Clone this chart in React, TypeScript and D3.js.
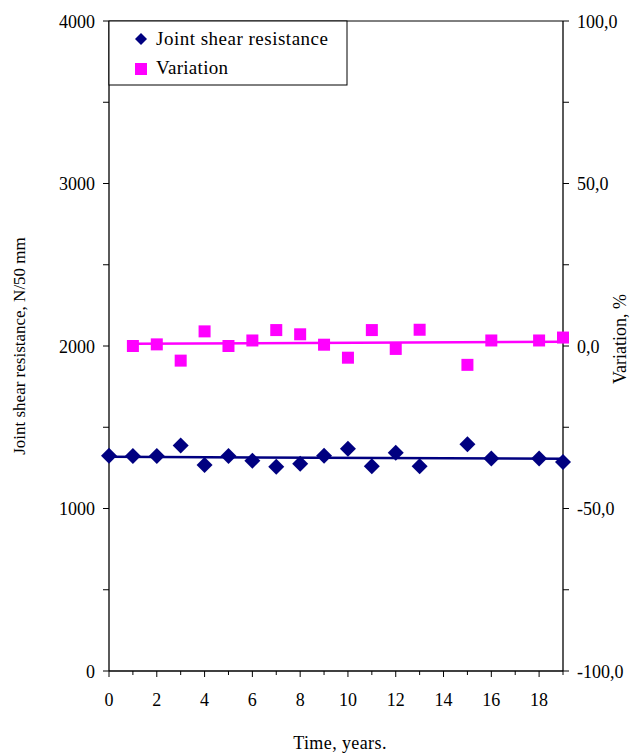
import React from "react";
import * as d3 from "d3";

const years = [0, 1, 2, 3, 4, 5, 6, 7, 8, 9, 10, 11, 12, 13, 15, 16, 18, 19];
const shear = [1325, 1323, 1323, 1387, 1268, 1323, 1294, 1257, 1276, 1325, 1368, 1260, 1343, 1260, 1395, 1307, 1307, 1286];

const varYears = [1, 2, 3, 4, 5, 6, 7, 8, 9, 10, 11, 12, 13, 15, 16, 18, 19];
const variation = [0.0, 0.5, -4.5, 4.5, 0.0, 1.7, 4.9, 3.6, 0.4, -3.6, 4.9, -0.9, 5.0, -5.8, 1.7, 1.7, 2.6];

const leftTicks = [0, 1000, 2000, 3000, 4000];
const rightTicks = [-100, -50, 0, 50, 100];
const xTicks = [0, 2, 4, 6, 8, 10, 12, 14, 16, 18];

const W = 642;
const H = 756;
const m = { left: 109, right: 563, top: 21, bottom: 671 };
const font = "Liberation Serif, Times New Roman, serif";
const NAVY = "#000080";
const MAG = "#FF00FF";

// least squares trend line
function fit(xs: number[], ys: number[]) {
  const mx = d3.mean(xs)!;
  const my = d3.mean(ys)!;
  const sxy = d3.sum(xs, (x, i) => (x - mx) * (ys[i] - my));
  const sxx = d3.sum(xs, (x) => (x - mx) * (x - mx));
  const b = sxy / sxx;
  return (x: number) => my + b * (x - mx);
}

// equal width/height diamond
const diamond = "M0,-8L8,0L0,8L-8,0Z";

export default function App() {
  const x = d3.scaleLinear().domain([0, 19]).range([m.left, m.right]);
  const yL = d3.scaleLinear().domain([0, 4000]).range([m.bottom, m.top]);
  const yR = d3.scaleLinear().domain([-100, 100]).range([m.bottom, m.top]);

  const fS = fit(years, shear);
  const fV = fit(varYears, variation);
  const line = d3.line<[number, number]>().x((d) => d[0]).y((d) => d[1]);

  const minorX = d3.range(0, 20, 1);
  const minorL = d3.range(0, 4001, 500);
  const minorR = d3.range(-100, 101, 25);

  return (
    <svg width={W} height={H} style={{ position: "absolute", left: 0, top: 0, background: "#fff", fontFamily: font }}>
      <rect x={0} y={0} width={W} height={H} fill="#fff" />
      {/* frame */}
      <line x1={m.left} x2={m.right} y1={m.top} y2={m.top} stroke="#000" strokeWidth={1} />
      <line x1={m.left} x2={m.left} y1={m.top} y2={m.bottom} stroke="#000" strokeWidth={1.3} />
      <line x1={m.right} x2={m.right} y1={m.top} y2={m.bottom} stroke="#000" strokeWidth={1.3} />
      <line x1={m.left} x2={m.right} y1={m.bottom} y2={m.bottom} stroke="#000" strokeWidth={1.3} />

      {/* left axis */}
      {minorL.map((v) => (
        <line key={"l" + v} x1={m.left - 6} x2={m.left} y1={yL(v)} y2={yL(v)} stroke="#000" />
      ))}
      {leftTicks.map((v) => (
        <text key={"lt" + v} x={95} y={yL(v) + 6.5} fontSize={18} textAnchor="end">{v}</text>
      ))}

      {/* right axis */}
      {minorR.map((v) => (
        <line key={"r" + v} x1={m.right} x2={m.right + 6} y1={yR(v)} y2={yR(v)} stroke="#000" />
      ))}
      {rightTicks.map((v) => (
        <text key={"rt" + v} x={577} y={yR(v) + 6.5} fontSize={18} textAnchor="start">
          {v.toFixed(1).replace(".", ",")}
        </text>
      ))}

      {/* x axis */}
      {minorX.map((v) => (
        <line key={"x" + v} x1={x(v)} x2={x(v)} y1={m.bottom} y2={m.bottom + (v % 2 === 0 ? 6 : 4)} stroke="#000" />
      ))}
      {xTicks.map((v) => (
        <text key={"xt" + v} x={x(v)} y={706} fontSize={18} textAnchor="middle">{v}</text>
      ))}

      {/* titles */}
      <text transform={`translate(25,346) rotate(-90)`} fontSize={17} textAnchor="middle">
        Joint shear resistance, N/50 mm
      </text>
      <text transform={`translate(626,339) rotate(-90)`} fontSize={18} textAnchor="middle">
        Variation, %
      </text>
      <text x={340} y={749} fontSize={18} textAnchor="middle" letterSpacing={0.4}>Time, years.</text>

      {/* trend lines */}
      <path d={line([[x(0), yL(fS(0))], [x(19), yL(fS(19))]])!} stroke={NAVY} strokeWidth={2.5} fill="none" />
      <path d={line([[x(1), yR(fV(1))], [x(19), yR(fV(19))]])!} stroke={MAG} strokeWidth={2.5} fill="none" />

      {/* markers */}
      {years.map((t, i) => (
        <path key={"d" + i} d={diamond} transform={`translate(${x(t)},${yL(shear[i])})`} fill={NAVY} />
      ))}
      {varYears.map((t, i) => (
        <rect key={"s" + i} x={x(t) - 6} y={yR(variation[i]) - 6} width={12} height={12} fill={MAG} />
      ))}

      {/* legend */}
      <rect x={109} y={21} width={238} height={64} fill="#fff" stroke="#000" strokeWidth={1} />
      <path d="M0,-6L6,0L0,6L-6,0Z" transform="translate(141,39)" fill={NAVY} />
      <text x={156} y={45} fontSize={19} letterSpacing={0.5}>Joint shear resistance</text>
      <rect x={135} y={63} width={12} height={12} fill={MAG} />
      <text x={156} y={74} fontSize={19} letterSpacing={0.3}>Variation</text>
    </svg>
  );
}
